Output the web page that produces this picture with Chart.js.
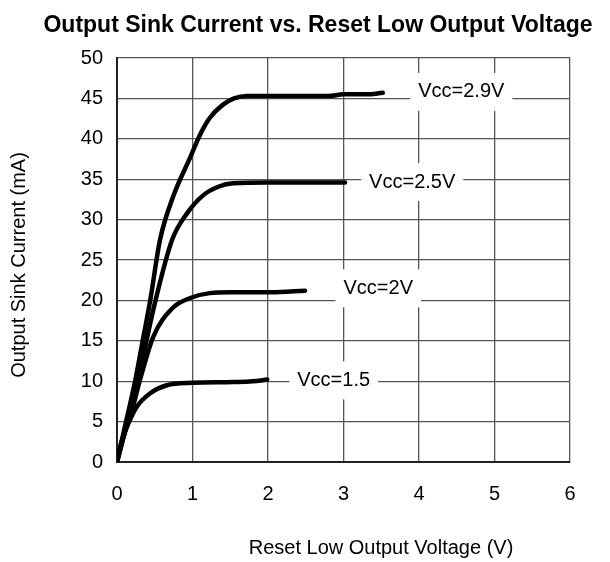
<!DOCTYPE html>
<html><head><meta charset="utf-8">
<script src="https://cdn.jsdelivr.net/npm/chart.js@4/dist/chart.umd.min.js"></script>
<style>html,body{margin:0;padding:0;background:#fff}#wrap{width:610px;height:562px}</style>
</head><body><div id="wrap"><canvas id="c" width="610" height="562"></canvas></div>
<script>
const titleText = 'Output Sink Current vs. Reset Low Output Voltage';
const xTitle = 'Reset Low Output Voltage (V)';
const yTitle = 'Output Sink Current (mA)';

const v29X = [0, 0.12, 0.24, 0.34, 0.44, 0.57, 0.75, 0.97, 1.1, 1.23, 1.4, 1.55, 1.72, 2.0, 2.5, 2.8, 3.0, 3.3, 3.52];
const v29Y = [0, 5, 10, 15, 20, 27.5, 33, 37.7, 40.5, 42.6, 44.2, 45.0, 45.3, 45.3, 45.3, 45.3, 45.5, 45.5, 45.7];

const v25X = [0, 0.14, 0.28, 0.39, 0.51, 0.73, 0.93, 1.14, 1.35, 1.54, 2.0, 2.5, 3.02];
const v25Y = [0, 5, 10, 15, 20, 27.5, 30.8, 33.0, 34.1, 34.5, 34.6, 34.6, 34.6];

const v20X = [0, 0.1, 0.21, 0.3, 0.48, 0.73, 0.97, 1.23, 1.5, 1.99, 2.3, 2.49];
const v20Y = [0, 3.5, 6.8, 10, 15.5, 19.0, 20.3, 20.9, 21.0, 21.0, 21.1, 21.2];

const v15X = [0, 0.06, 0.13, 0.26, 0.44, 0.66, 1.0, 1.54, 1.8, 1.99];
const v15Y = [0, 2.5, 4.3, 6.8, 8.5, 9.5, 9.8, 9.9, 10.0, 10.2];

const curveLabels = ['Vcc=2.9V', 'Vcc=2.5V', 'Vcc=2V', 'Vcc=1.5'];
const labelX = [4.56, 3.91, 3.46, 2.87];
const labelY = [45.8, 34.65, 21.5, 10.1];

const xTicks = [0, 1, 2, 3, 4, 5, 6];
const yTicks = [0, 5, 10, 15, 20, 25, 30, 35, 40, 45, 50];

const FONT = "'Liberation Sans', Arial, sans-serif";

function pts(xs, ys) { return xs.map((x, i) => ({x: x, y: ys[i]})); }
function ds(xs, ys) {
  return {
    data: pts(xs, ys), showLine: true, borderColor: '#000', borderWidth: 4.5,
    pointRadius: 0, cubicInterpolationMode: 'monotone', fill: false,
    borderCapStyle: 'round', borderJoinStyle: 'round'
  };
}

const labelPlugin = {
  id: 'curveLabels',
  afterDatasetsDraw(chart) {
    const ctx = chart.ctx;
    const xs = chart.scales.x, ys = chart.scales.y;
    ctx.save();
    ctx.font = '20px ' + FONT;
    ctx.textBaseline = 'middle';
    ctx.textAlign = 'center';
    curveLabels.forEach((t, i) => {
      const px = xs.getPixelForValue(labelX[i]);
      const py = ys.getPixelForValue(labelY[i]);
      const w = ctx.measureText(t).width + 16;
      const h = 38;
      ctx.fillStyle = '#fff';
      ctx.fillRect(px - w / 2, py - h / 2, w, h);
      ctx.fillStyle = '#000';
      ctx.fillText(t, px, py);
    });
    ctx.restore();
  },
  afterDraw(chart) {
    const ctx = chart.ctx;
    ctx.save();
    ctx.fillStyle = '#000';
    ctx.textAlign = 'center';
    ctx.textBaseline = 'middle';
    ctx.font = 'bold 23px ' + FONT;
    ctx.fillText(titleText, 318, 26);
    ctx.font = '20px ' + FONT;
    ctx.fillText(xTitle, 381, 548);
    ctx.translate(19, 265);
    ctx.rotate(-Math.PI / 2);
    ctx.fillText(yTitle, 0, 0);
    ctx.restore();
  }
};

new Chart(document.getElementById('c'), {
  type: 'scatter',
  data: { datasets: [ds(v29X, v29Y), ds(v25X, v25Y), ds(v20X, v20Y), ds(v15X, v15Y)] },
  options: {
    responsive: false, animation: false, devicePixelRatio: 1,
    layout: { padding: { top: 58, right: 40, left: 0, bottom: 0 } },
    plugins: { legend: { display: false }, tooltip: { enabled: false }, title: { display: false } },
    scales: {
      x: {
        type: 'linear', min: 0, max: 6,
        afterFit(s) { s.height = 100; },
        afterBuildTicks(s) { s.ticks = xTicks.map(v => ({value: v})); },
        ticks: { color: '#000', font: { size: 20, family: FONT }, padding: 20 },
        grid: { color: '#555', lineWidth: 1.3, drawTicks: false },
        border: { color: '#222', width: 2 },
        title: { display: false }
      },
      y: {
        type: 'linear', min: 0, max: 50,
        afterFit(s) { s.width = 117; },
        afterBuildTicks(s) { s.ticks = yTicks.map(v => ({value: v})); },
        ticks: { color: '#000', font: { size: 20, family: FONT }, padding: 14 },
        grid: { color: '#555', lineWidth: 1.3, drawTicks: false },
        border: { color: '#222', width: 2 },
        title: { display: false }
      }
    }
  },
  plugins: [labelPlugin]
});
</script>
</body></html>
